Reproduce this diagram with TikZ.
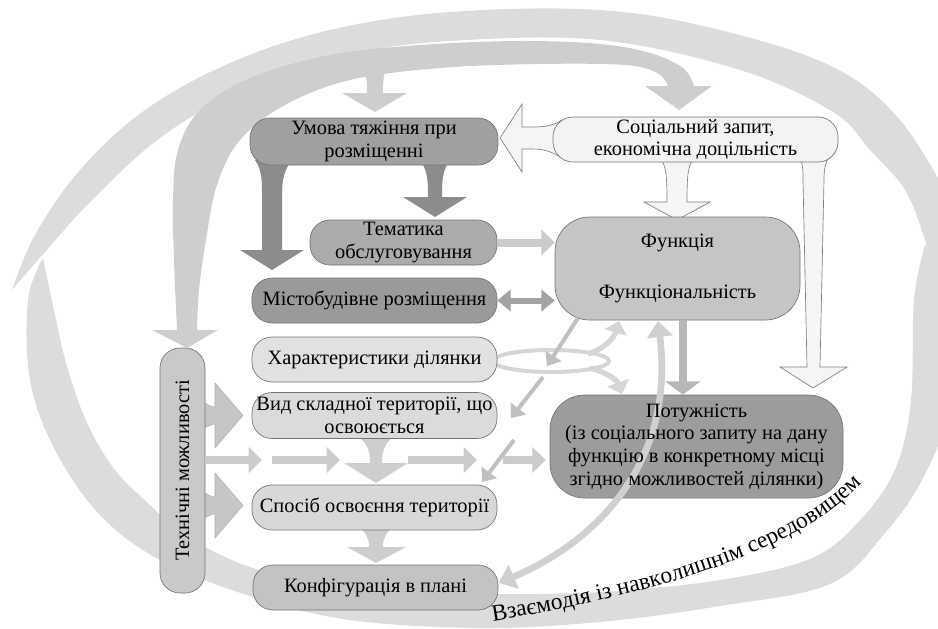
\documentclass[tikz,border=0pt]{standalone}
\usepackage{fontspec}
\setmainfont{Liberation Serif}
\usetikzlibrary{arrows.meta,decorations.text,calc}
\definecolor{cRing}{HTML}{DCDCDC}
\definecolor{cBand}{HTML}{CECECE}
\definecolor{cDark}{HTML}{8C8C8C}
\definecolor{cOut}{HTML}{F5F5F5}
\definecolor{cUmova}{HTML}{A0A0A0}
\definecolor{cSoc}{HTML}{F3F3F3}
\definecolor{cTem}{HTML}{ABABAB}
\definecolor{cMisto}{HTML}{9A9A9A}
\definecolor{cKhar}{HTML}{E1E1E1}
\definecolor{cVyd}{HTML}{DBDBDB}
\definecolor{cSpos}{HTML}{D8D8D8}
\definecolor{cKonf}{HTML}{C3C3C3}
\definecolor{cFunk}{HTML}{C5C5C5}
\definecolor{cPot}{HTML}{9C9C9C}
\definecolor{cTekh}{HTML}{C9C9C9}
\definecolor{cTarr}{HTML}{C6C6C6}
\definecolor{cThin}{HTML}{CBCBCB}
\definecolor{cDbl}{HTML}{A3A3A3}
\definecolor{cLoop}{HTML}{D6D6D6}
\definecolor{cDiag}{HTML}{C0C0C0}
\definecolor{cLong}{HTML}{D0D0D0}
\newcommand\nodefont{\fontsize{15.3}{17}\selectfont}
\newcommand\ringfont{\fontsize{17.5}{21}\selectfont}
\begin{document}
\begin{tikzpicture}[x=0.75pt,y=-0.75pt,
  box/.style={draw=black!55, line width=0.5pt, rounded corners=15pt, align=center, inner sep=0pt, font=\nodefont, text=black},
  bigbox/.style={box, rounded corners=26pt},
  outl/.style={fill=cOut, draw=black!50, line width=0.5pt},
  blk/.style={fill=cDark},
  tarr/.style={fill=cTarr, draw=black!30, line width=0.4pt},
  thinarr/.style={draw=cThin, line width=6pt, -{Triangle[length=10pt,width=19pt]}},
  dblarr/.style={draw=cDbl, line width=4.5pt, {Triangle[length=10pt,width=16pt]}-{Triangle[length=10pt,width=16pt]}},
  diagarr/.style={draw=cDiag, line width=3pt, -{Triangle[length=9pt,width=14pt]}},
  looparr/.style={draw=cLoop, line width=4pt, -{Triangle[length=9pt,width=17pt]}},
  longarr/.style={draw=cLong, line width=5pt, {Triangle[length=12pt,width=19pt]}-{Triangle[length=12pt,width=19pt]}}
]
\useasboundingbox (0,0) rectangle (938,628);
\begin{scope}
\clip (0,0) rectangle (938,628);
% outer ring: upper band
\fill[cRing] plot[smooth, tension=0.6] coordinates {(12,290) (35,235) (80,170) (145,110) (230,63) (330,30) (450,12) (600,10) (720,30) (833,67) (900,120) (950,200)}
  -- (955,300) -- plot[smooth, tension=0.6] coordinates {(942,300) (925,240) (905,190) (870,150) (833,112) (740,70) (600,40) (450,41) (340,56) (245,88) (160,138) (92,200) (45,252) (12,290)} -- cycle;
% outer ring: lower band
\fill[cRing] plot[smooth, tension=0.6] coordinates {(43,258) (28,300) (30,380) (55,450) (100,515) (160,560) (250,596) (350,620) (480,628) (600,622) (720,606) (830,584) (885,533) (922,480) (945,420) (952,330) (938,262) (925,245)}
  -- plot[smooth, tension=0.6] coordinates {(925,245) (914,300) (911,400) (896,467) (862,518) (812,558) (720,580) (600,592) (480,594) (350,591) (250,567) (185,535) (150,505) (115,470) (88,425) (68,370) (55,315) (43,258)} -- cycle;
\end{scope}
% inner curved arrow band
\fill[cBand] (152,330) -- (177,330) -- plot[smooth, tension=0.6] coordinates {(177,330) (174,260) (173,200) (178,150) (200,110) (250,78) (330,55) (420,45) (520,41) (600,44) (650,53) (683,68) (694,86)}
  -- (712,86) -- (679,110) -- (645,86) -- plot[smooth, tension=0.6] coordinates {(668,86) (657,73) (625,65) (540,64) (440,68) (350,80) (285,105) (240,140) (217,185) (206,240) (199,290) (197,330)}
  -- (218,330) -- (187,348) -- cycle;
% branch of the band down to Umova
\fill[cBand] (358,58) .. controls (366,68) and (367,78) .. (367,93) -- (342,93) -- (375,112) -- (407,93) -- (383,93) .. controls (383,78) and (384,68) .. (392,58) -- cycle;
% dark arrows from Umova
\fill[blk] (255,160) .. controls (262,170) and (262,180) .. (262,195) -- (262,250) -- (240,250) -- (272,270) -- (304,250) -- (282,250) -- (282,195) .. controls (282,180) and (284,170) .. (292,160) -- cycle;
\fill[blk] (420,160) .. controls (427,170) and (428,178) .. (428,197) -- (403,197) -- (435,217) -- (467,197) -- (442,197) .. controls (442,178) and (443,170) .. (450,160) -- cycle;
% outline arrows from Social
\filldraw[outl] (562,120) .. controls (552,126) and (545,127) .. (532,127) -- (522,127) -- (522,104) -- (500,138) -- (522,172) -- (522,149) -- (532,149) .. controls (545,149) and (552,152) .. (562,158);
\filldraw[outl] (660,158) .. controls (666,165) and (667,175) .. (667,202) -- (644,202) -- (677,220) -- (710,202) -- (687,202) .. controls (687,175) and (688,165) .. (694,158);
\filldraw[outl] (800,158) .. controls (803,165) and (803,170) .. (803,180) -- (807,367) -- (780,367) -- (813,388) -- (847,367) -- (820,367) -- (824,180) .. controls (824,170) and (825,165) .. (828,158);
% block arrows from Tekhn
\filldraw[tarr] (200,400) .. controls (208,405) and (211,407) .. (215,407) -- (215,383) -- (243,415.5) -- (215,448) -- (215,424) .. controls (211,424) and (208,426) .. (200,431) -- cycle;
\filldraw[tarr] (200,490) .. controls (208,495) and (211,497) .. (215,497) -- (215,473) -- (243,505.5) -- (215,538) -- (215,514) .. controls (211,514) and (208,516) .. (200,521) -- cycle;
% vertical arrows Vyd->Sposib, Sposib->Konfig
\fill[cBand] (356,435) .. controls (366,442) and (370,448) .. (370,463) -- (344,463) -- (376,483) -- (408,463) -- (382,463) .. controls (382,448) and (386,442) .. (396,435) -- cycle;
\fill[cBand] (359,527) .. controls (366,533) and (369,538) .. (369,547) -- (347,547) -- (376,563) -- (406,547) -- (383,547) .. controls (383,538) and (386,533) .. (393,527) -- cycle;
% loop from Kharakterystyky
\draw[cLoop, line width=3pt] (551,361) ellipse [x radius=58, y radius=11];
% nodes
\node[box, fill=cUmova, minimum width=186pt, minimum height=35.25pt] (umova) at (374,141.5) {Умова тяжіння при\\розміщенні};
\node[box, fill=cSoc, minimum width=213.75pt, minimum height=33.75pt] (social) at (695.5,139.5) {Соціальний запит,\\економічна доцільність};
\node[box, fill=cTem, minimum width=140.25pt, minimum height=33.75pt] (tem) at (403.5,242.5) {Тематика\\обслуговування};
\node[box, fill=cMisto, minimum width=183.75pt, minimum height=33.75pt] (misto) at (374.5,300.5) {Містобудівне розміщення};
\node[box, fill=cKhar, minimum width=183.75pt, minimum height=33.75pt] (khar) at (374.5,359.5) {Характеристики ділянки};
\node[box, fill=cVyd, minimum width=183.75pt, minimum height=34.5pt] (vyd) at (374.5,415.5) {Вид складної території, що\\освоюється};
\node[box, fill=cSpos, minimum width=183.75pt, minimum height=33.75pt] (spos) at (374.5,507.5) {Спосіб освоєння території};
\node[box, fill=cKonf, minimum width=183.75pt, minimum height=33.75pt] (konf) at (375.5,587.5) {Конфігурація в плані};
\node[bigbox, fill=cFunk, minimum width=183.75pt, minimum height=77.25pt] (funk) at (677.5,268.5) {Функція\\[21pt]Функціональність};
\node[bigbox, fill=cPot, minimum width=219.75pt, minimum height=77.25pt] (potbox) at (696.5,446.5) {};
\node[box, fill=cTekh, rotate=90, minimum width=183.75pt, minimum height=33.75pt] (tekh) at (182.5,470.5) {Технічні можливості};
% thin connectors
\draw[thinarr] (tem.east) -- (tem.east -| funk.west);
\draw[dblarr] (misto.east) -- (misto.east -| funk.west);
\draw[draw=cThin!90!black, line width=6pt, -{Triangle[length=10pt,width=26pt]}] ([xshift=4pt]funk.south) -- ([xshift=4pt]funk.south |- potbox.north);
\coordinate (h1) at (262,460);
\coordinate (h2a) at (272,460);
\coordinate (h2) at (340,460);
\coordinate (h3a) at (408,460);
\coordinate (h3) at (477,460);
\coordinate (h4a) at (503,460);
\draw[thinarr] (tekh.south |- h1) -- (h1);
\draw[thinarr] (h2a) -- (h2);
\draw[thinarr] (h3a) -- (h3);
\draw[thinarr] (h4a) -- ([xshift=-3pt]potbox.west |- h4a);
\coordinate (d0) at (578,318);
\coordinate (d1) at (547,366);
\coordinate (d2a) at (543,377);
\coordinate (d2) at (511,418);
\coordinate (d3a) at (514,440);
\coordinate (d3) at (482,482);
\draw[diagarr] (d0) -- (d1);
\draw[diagarr] (d2a) -- (d2);
\draw[diagarr] (d3a) -- (d3);
\coordinate (l1) at (588,354);
\coordinate (l2) at (590,368);
\draw[looparr] (l1) .. controls (604,349) and (614,338) .. (619,321);
\draw[looparr] (l2) .. controls (606,372) and (617,380) .. (622,394);
\coordinate (kR) at (499,583);
\coordinate (fB) at (658,321);
\draw[longarr] (kR) .. controls (600,540) and (675,460) .. (fB);
% text of the Potuzhnist box, above the crossing curve
\node[align=center, inner sep=0pt, font=\nodefont, text=black] (pot) at (potbox.center) {Потужність\\(із соціального запиту на дану\\функцію в конкретному місці\\згідно можливостей ділянки)};
% text along the ring
\path[decorate, decoration={text along path, text={|\ringfont|Взаємодія із навколишнім середовищем}}]
  (493,621) .. controls (640,597) and (790,557) .. (862,484) -- (910,436);
\end{tikzpicture}
\end{document}
